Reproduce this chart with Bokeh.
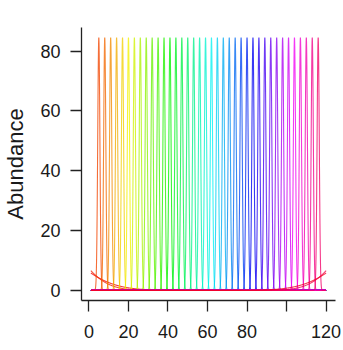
import colorsys
import numpy as np
from bokeh.plotting import figure
from bokeh.models import Range1d, FixedTicker, Label, ColumnDataSource
from bokeh.embed import file_html
from bokeh.resources import INLINE

# ---- data ----
peak_optima = [5, 8, 11, 14, 17, 20, 23, 26, 29, 32, 35, 38, 41, 44, 47, 50, 53,
               56, 59, 62, 65, 68, 71, 74, 77, 80, 83, 86, 89, 92, 95, 98, 101,
               104, 107, 110, 113, 116]
peak_heights = [84.5] * len(peak_optima)
peak_tolerance = [0.55] * len(peak_optima)

edge_left_optima = [-30, -20]
edge_left_heights = [19.3, 20.3]
edge_left_tolerance = [20, 14]
edge_right_optima = [141, 151]
edge_right_heights = [20.3, 19.3]
edge_right_tolerance = [14, 20]

gradient_start, gradient_end = 1, 120
x_ticks = [0, 20, 40, 60, 80, 100, 120]
x_tick_labels = ["0", "20", "40", "60", "80", "", "120"]
y_ticks = [0, 20, 40, 60, 80]
y_label = "Abundance"
panel_tag = "A"

# ---- build species response curves ----
optima = edge_left_optima + peak_optima + edge_right_optima
heights = edge_left_heights + peak_heights + edge_right_heights
tols = edge_left_tolerance + peak_tolerance + edge_right_tolerance
n = len(optima)

grad = np.linspace(gradient_start, gradient_end, 2381)
xs, ys, cols = [], [], []
for i, (o, h, t) in enumerate(zip(optima, heights, tols)):
    r, g, b = colorsys.hsv_to_rgb(i / n, 1.0, 0.95)
    cols.append("#%02x%02x%02x" % (int(round(r * 255)), int(round(g * 255)), int(round(b * 255))))
    xs.append(grad.tolist())
    ys.append((h * np.exp(-((grad - o) ** 2) / (2 * t * t))).tolist())

src = ColumnDataSource(dict(xs=xs, ys=ys, color=cols))

p = figure(width=343, height=350, output_backend="svg", toolbar_location=None,
           x_range=Range1d(-3.76, 124.76), y_range=Range1d(-3.38, 87.88),
           min_border_left=81, min_border_right=8, min_border_top=27,
           min_border_bottom=50)
p.multi_line(xs="xs", ys="ys", line_color="color", line_width=1.1,
             line_alpha=0.78, source=src)

p.grid.visible = False
p.outline_line_color = None
p.background_fill_color = "white"
p.border_fill_color = "white"

for ax in (p.xaxis[0], p.yaxis[0]):
    ax.axis_line_color = "#222222"
    ax.axis_line_width = 1.3
    ax.major_tick_line_color = "#222222"
    ax.major_tick_line_width = 1.3
    ax.major_tick_out = 11
    ax.major_tick_in = 0
    ax.minor_tick_line_color = None
    ax.major_label_text_font = "Liberation Sans"
    ax.major_label_text_font_size = "18px"
    ax.major_label_text_color = "#1a1a1a"

p.xaxis.ticker = FixedTicker(ticks=x_ticks)
p.xaxis.major_label_overrides = {t: l for t, l in zip(x_ticks, x_tick_labels)}
p.xaxis.major_label_standoff = 13

p.yaxis.ticker = FixedTicker(ticks=y_ticks)
p.yaxis.major_label_orientation = "horizontal"
p.yaxis.major_label_standoff = 10
p.yaxis.axis_label = y_label
p.yaxis.axis_label_text_font = "Liberation Sans"
p.yaxis.axis_label_text_font_style = "normal"
p.yaxis.axis_label_text_font_size = "22px"
p.yaxis.axis_label_text_color = "#1a1a1a"
p.yaxis.axis_label_standoff = 9

p.add_layout(Label(x=119.7, y=90.9, text=panel_tag, text_font="Liberation Sans",
                   text_font_style="bold", text_font_size="17px",
                   text_align="center", text_baseline="middle", text_color="#111111"))

open("out.html", "w").write(file_html(p, INLINE))
